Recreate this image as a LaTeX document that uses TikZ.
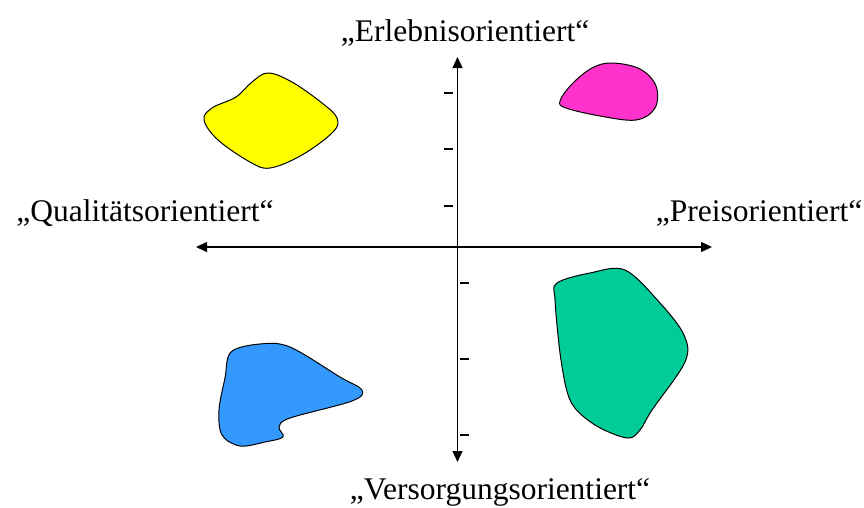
\documentclass[tikz,border=0pt]{standalone}
\usepackage{fontspec}
\setmainfont{Liberation Serif}
\usetikzlibrary{arrows.meta}
\definecolor{cyellow}{HTML}{FFFF00}
\definecolor{cmagenta}{HTML}{FF33CC}
\definecolor{cblue}{HTML}{3399FF}
\definecolor{cgreen}{HTML}{00CC99}
\tikzset{
  axis/.style={line width=1.3pt, -{Triangle[length=11pt,width=10pt]}},
  tickmark/.style={line width=2.6pt},
  blob/.style={draw=black, line width=1pt},
  label/.style={font=\fontsize{31.5}{38}\selectfont, anchor=base, inner sep=0pt}
}
\begin{document}
\begin{tikzpicture}[x=1pt,y=-1pt]
\useasboundingbox (0,0) rectangle (864,507);
% axes
\coordinate (c) at (457.5,247);
\coordinate (top) at (457.5,57);
\coordinate (bot) at (457.5,462);
\coordinate (lft) at (196,247);
\coordinate (rgt) at (712,247);
\draw[axis] (c) -- (top);
\draw[axis] (c) -- (bot);
\draw[axis] (c) -- (lft);
\draw[axis] (c) -- (rgt);
% ticks
\foreach \y in {93,149,206} \draw[tickmark] (444,\y) -- (453,\y);
\foreach \y in {283,359,435} \draw[tickmark] (460,\y) -- (469,\y);
% blobs
\draw[blob, fill=cyellow] plot[smooth cycle, tension=0.6] coordinates {
 (268,73) (292,82) (322,103) (337,118) (333,132) (302,155) (270,168) (250,162) (218,140) (204,120) (212,108) (236,97) (252,82)};
\draw[blob, fill=cmagenta] plot[smooth cycle, tension=0.6] coordinates {
 (560,101) (572,84) (592,68) (612,63) (640,69) (656,86) (655,108) (636,120) (600,116) (566,108)};
\draw[blob, fill=cblue] plot[smooth cycle, tension=0.55] coordinates {
 (231,352) (260,344) (290,347) (340,377) (362,390) (352,401) (290,418) (279,427) (283,437) (265,442) (240,446) (222,435) (219,410) (225,378)};
\draw[blob, fill=cgreen] plot[smooth cycle, tension=0.55] coordinates {
 (557,283) (590,273) (625,270) (660,303) (684,335) (685,362) (652,410) (640,430) (627,438) (595,425) (571,402) (561,360) (555,300)};
% labels
\node[label] (erl) at (465,41) {„Erlebnisorientiert“};
\node[label] (qual) at (145,221) {„Qualitätsorientiert“};
\node[label] (preis) at (759,221) {„Preisorientiert“};
\node[label] (vers) at (500,499) {„Versorgungsorientiert“};
\end{tikzpicture}
\end{document}
